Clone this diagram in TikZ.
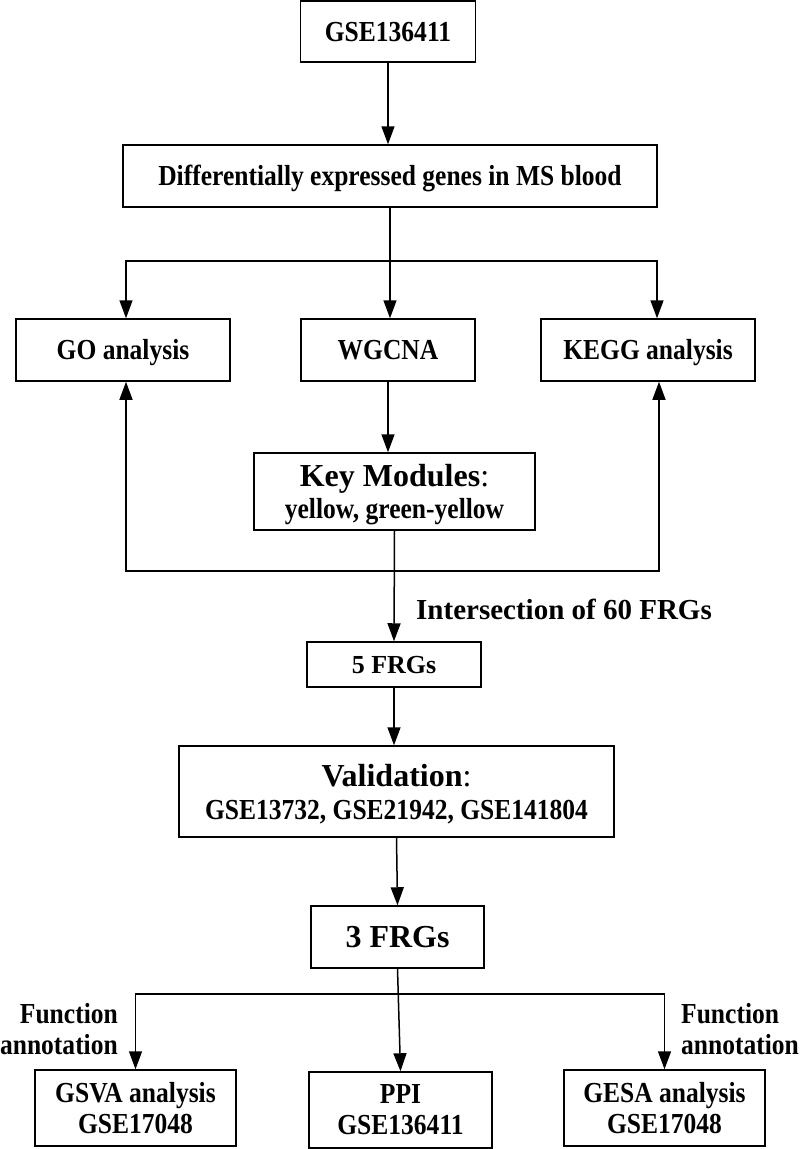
\documentclass[tikz,border=0pt]{standalone}
\usepackage{fontspec}
\setmainfont{Liberation Serif}
\newfontfamily\cnd[FakeStretch=0.88]{Liberation Serif}
\usetikzlibrary{arrows.meta}
\begin{document}
\begin{tikzpicture}[x=1pt,y=-1pt,
  box/.style={draw, line width=1.5pt, inner sep=0pt, align=center},
  cf/.style={font={\cnd\bfseries\fontsize{29}{31}\selectfont}},
  one/.style={text height=19.2pt, text depth=0pt},
  bigf/.style={font={\bfseries\fontsize{32}{32}\selectfont}},
  lbl/.style={inner sep=0pt},
  ln/.style={line width=1.5pt},
  arr/.style={line width=1.5pt, -{Triangle[length=18pt,width=13pt]}}]
\useasboundingbox (0,0) rectangle (800,1149);

% boxes
\node[box,cf,one,minimum width=175pt,minimum height=61pt] (top) at (388,31.5) {GSE136411};
\node[box,cf,one,minimum width=534pt,minimum height=62pt] (diff) at (390,176) {Differentially expressed genes in MS blood};
\node[box,cf,one,minimum width=214pt,minimum height=62pt] (go) at (123,350) {GO analysis};
\node[box,cf,one,minimum width=174pt,minimum height=62pt] (wgcna) at (388,350) {WGCNA};
\node[box,cf,one,minimum width=214pt,minimum height=62pt] (kegg) at (648,350) {KEGG analysis};
\node[box,cf,text depth=0pt,minimum width=281pt,minimum height=77pt] (key) at (394.5,491.5)
  {{\fontsize{32}{32}\selectfont\normalfont\bfseries Key Modules{\mdseries :}}\\[1pt]yellow, green-yellow};
\node[box,font={\bfseries\fontsize{26}{28}\selectfont},text height=17.2pt,text depth=0pt,minimum width=174pt,minimum height=45pt] (five) at (394,664.5) {5 FRGs};
\node[box,cf,text depth=0pt,minimum width=435pt,minimum height=91pt] (valid) at (396.5,791.5)
  {{\fontsize{32}{32}\selectfont\normalfont\bfseries Validation{\mdseries :}}\\[2pt]GSE13732, GSE21942, GSE141804};
\node[box,bigf,text height=21.2pt,text depth=0pt,minimum width=173pt,minimum height=62pt] (three) at (397.5,937) {3 FRGs};
\node[box,cf,minimum width=201pt,minimum height=76pt] (gsva) at (135.5,1108) {GSVA analysis\\GSE17048};
\node[box,cf,minimum width=183pt,minimum height=76pt] (ppi) at (400.5,1110) {PPI\\GSE136411};
\node[box,cf,minimum width=201pt,minimum height=76pt] (gesa) at (664.5,1108) {GESA analysis\\GSE17048};

% labels
\node[lbl,anchor=base west,font={\bfseries\fontsize{29}{31}\selectfont}] (isect) at (416,619) {Intersection of 60 FRGs};
\node[lbl,cf,align=right,anchor=east] (fa1) at (118,1029) {Function\\annotation};
\node[lbl,cf,align=left,anchor=west] (fa2) at (681,1029) {Function\\annotation};

% connectors
\coordinate (j1) at (390,261);
\coordinate (j2) at (394,571);
\coordinate (j3) at (398,994);

\draw[arr] (top.south) -- (top.south |- diff.north);
\draw[ln] (diff.south) -- (j1);
\draw[arr] (j1) -| ([xshift=3pt]go.north);
\draw[arr] (j1) -| ([xshift=9pt]kegg.north);
\draw[arr] (j1) -- (j1 |- wgcna.north);
\draw[arr] (wgcna.south) -- (wgcna.south |- key.north);
\draw[arr] (key.south) -- (five.north);
\draw[arr] (j2) -| ([xshift=3pt]go.south);
\draw[arr] (j2) -| ([xshift=11pt]kegg.south);
\draw[arr] (five.south) -- (five.south |- valid.north);
\draw[arr] (valid.south) -- (three.north);
\draw[arr] (three.south) -- (ppi.north);
\draw[arr] (j3) -| (gsva.north);
\draw[arr] (j3) -| (gesa.north);
\end{tikzpicture}
\end{document}
